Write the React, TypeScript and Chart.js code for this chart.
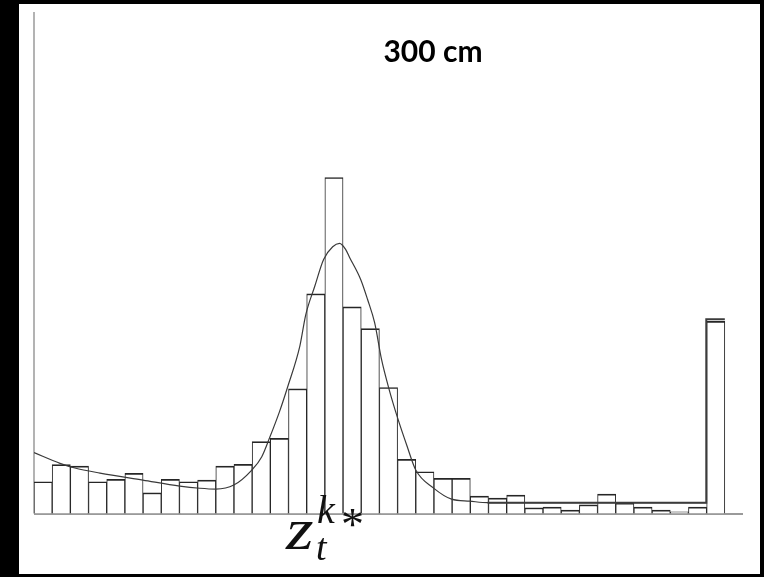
import React, { useEffect, useRef } from "react";
import { Chart, registerables } from "chart.js";

Chart.register(...registerables);

// Histogram bins: 39 bins across the range, the last one empty
const binCounts: number[] = [
  9.5, 14.6, 14.2, 9.5, 10.2, 12.0, 6.2, 10.2, 9.5, 10.0,
  14.2, 14.7, 21.5, 22.5, 37.3, 65.7, 100.5, 61.8, 55.3, 37.7,
  16.2, 12.5, 10.5, 10.5, 5.2, 4.6, 5.5, 1.7, 1.9, 1.0,
  2.6, 5.8, 3.1, 1.9, 1.0, 0.5, 1.9, 57.5,
];
const binTotal = 39;

// Fitted density, sampled along the bin axis (x in bin units)
const fitX: number[] = [
  0, 1.43, 2.25, 3.63, 5.99, 8.02, 9.12, 10.0, 10.99, 11.98,
  12.53, 12.97, 13.5, 13.96, 14.62, 14.95, 15.44, 15.93, 16.43, 16.81,
  17.14, 17.36, 17.97, 18.35, 18.74, 19.12, 19.51, 20.0, 20.5, 21.0,
  21.98, 22.97, 23.96, 24.95, 36.98,
];
const fitY: number[] = [
  18.2, 15.0, 13.6, 12.1, 10.0, 8.2, 7.55, 7.3, 8.5, 13.0,
  17.0, 22.8, 30.4, 38.0, 50.0, 59.5, 67.9, 76.0, 79.8, 80.8,
  79.0, 76.6, 70.0, 64.0, 57.0, 46.0, 37.6, 28.6, 20.5, 13.0,
  7.6, 4.3, 3.7, 3.24, 3.24,
];

// Uniform floor of the fit and its max-range spike
const floorX: number[] = [24.95, 36.98, 36.98, 38.0];
const floorY: number[] = [3.24, 3.24, 58.1, 58.1];

const titleText = "300 cm";
const yMax = 150;

const decorations = {
  id: "decorations",
  beforeDatasetsDraw(chart: Chart) {
    const { ctx, chartArea } = chart;
    ctx.save();
    ctx.strokeStyle = "#9a9a9a";
    ctx.lineWidth = 1.5;
    ctx.beginPath();
    ctx.moveTo(chartArea.left, chartArea.top);
    ctx.lineTo(chartArea.left, chartArea.bottom);
    ctx.stroke();
    ctx.lineWidth = 2;
    ctx.beginPath();
    ctx.moveTo(chartArea.left, chartArea.bottom + 0.5);
    ctx.lineTo(chartArea.right, chartArea.bottom + 0.5);
    ctx.stroke();
    ctx.restore();
  },
  afterDraw(chart: Chart) {
    const { ctx } = chart;
    ctx.save();
    ctx.fillStyle = "#000";
    ctx.textAlign = "center";
    ctx.textBaseline = "middle";
    ctx.font = "bold 30px Lato, 'Open Sans', sans-serif";
    ctx.fillText(titleText, 414, 48);

    // z_t^{k*} marker under the peak
    ctx.fillStyle = "#111";
    ctx.textAlign = "left";
    ctx.textBaseline = "alphabetic";
    ctx.save();
    ctx.translate(267, 545);
    ctx.scale(1.18, 1);
    ctx.font = "italic 60px 'Liberation Serif', 'DejaVu Serif', serif";
    ctx.fillText("z", 0, 0);
    ctx.restore();
    ctx.font = "italic 40px 'Liberation Serif', 'DejaVu Serif', serif";
    ctx.fillText("k", 298, 519);
    ctx.font = "italic 38px 'Liberation Serif', 'DejaVu Serif', serif";
    ctx.fillText("t", 297, 556);
    ctx.font = "46px 'Liberation Serif', 'DejaVu Serif', serif";
    ctx.fillText("*", 322, 536);
    ctx.restore();
  },
};

export default function App() {
  const canvasRef = useRef<HTMLCanvasElement | null>(null);

  useEffect(() => {
    const canvas = canvasRef.current;
    if (!canvas) return;
    const chart = new Chart(canvas, {
      type: "bar",
      data: {
        datasets: [
          {
            type: "bar",
            data: binCounts.map((y, i) => ({ x: i + 0.5, y })),
            backgroundColor: "#ffffff",
            borderColor: "#262626",
            borderWidth: { top: 1.7, left: 1.0, right: 1.0, bottom: 0 },
            borderSkipped: false,
            barPercentage: 1,
            categoryPercentage: 1,
            grouped: false,
            order: 2,
          },
          {
            type: "line",
            data: fitX.map((x, i) => ({ x, y: fitY[i] })),
            borderColor: "#3a3a3a",
            borderWidth: 1.2,
            pointRadius: 0,
            fill: false,
            cubicInterpolationMode: "monotone",
            order: 1,
          },
          {
            type: "line",
            data: floorX.map((x, i) => ({ x, y: floorY[i] })),
            borderColor: "#3c3c3c",
            borderWidth: 2,
            pointRadius: 0,
            fill: false,
            tension: 0,
            order: 0,
          },
        ] as any,
      },
      options: {
        responsive: false,
        animation: false,
        devicePixelRatio: 1,
        layout: { padding: { left: 15, top: 8, right: 17, bottom: 60.5 } },
        plugins: {
          legend: { display: false },
          tooltip: { enabled: false },
          title: { display: false },
        },
        scales: {
          x: { type: "linear", display: false, offset: false, min: 0, max: binTotal },
          y: { display: false, min: 0, max: yMax },
        },
      },
      plugins: [decorations],
    });
    return () => chart.destroy();
  }, []);

  return (
    <div style={{ position: "fixed", inset: 0, background: "#000" }}>
      <div
        style={{
          position: "absolute",
          left: 19,
          top: 4,
          width: 741,
          height: 570,
          background: "#fff",
        }}
      >
        <canvas ref={canvasRef} width={741} height={570} style={{ display: "block" }} />
      </div>
    </div>
  );
}
